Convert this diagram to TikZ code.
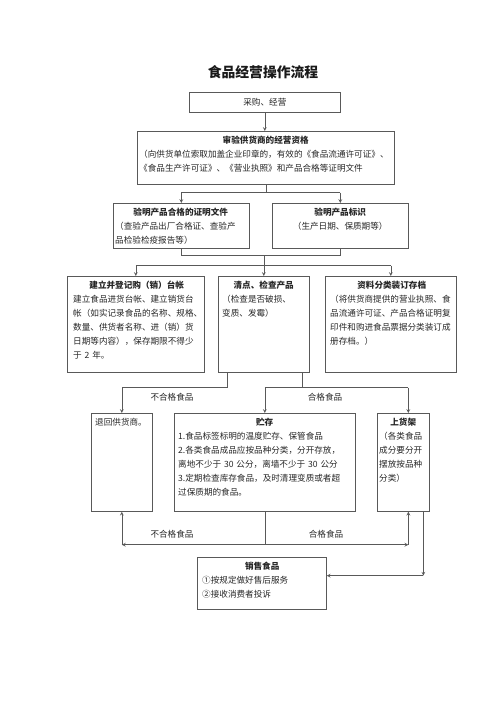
\documentclass[tikz,border=0pt]{standalone}
\usepackage{fontspec}
\setmainfont{Noto Sans CJK SC}
\usetikzlibrary{positioning}
\newcommand{\ct}[1]{\hspace*{\fill}#1\hspace*{\fill}\null}
\newcommand{\bt}[1]{\ct{\textbf{#1}}}

\begin{document}
\begin{tikzpicture}[x=1pt, y=-1pt,
  panel/.style={draw=black!65, line width=0.7pt, anchor=north west, inner sep=0pt},
  txt/.style={inner sep=0pt, align=left, text=black!85, font=\fontsize{8.6}{14}\selectfont},
  lbl/.style={inner sep=0pt, text=black!85, font=\fontsize{8.6}{10}\selectfont},
  ln/.style={draw=black!65, line width=0.7pt},
  arr/.style={ln, -stealth}]

  \useasboundingbox (0,0) rectangle (500,708);

  \node[font=\bfseries\fontsize{13.8}{16}\selectfont, text=black!90] (titel) at (263,72) {食品经营操作流程};

  % boxes
  \node[panel, minimum width=151, minimum height=20] (caigou) at (189,92) {};
  \node[panel, minimum width=257, minimum height=53] (shenyan) at (137,131) {};
  \node[panel, minimum width=136, minimum height=45] (yanzheng) at (113,203) {};
  \node[panel, minimum width=136, minimum height=45] (biaoshi) at (272,203) {};
  \node[panel, minimum width=137, minimum height=96] (jiandang) at (67,276) {};
  \node[panel, minimum width=91, minimum height=96] (jiancha) at (218,276) {};
  \node[panel, minimum width=131, minimum height=96] (guidang) at (325,276) {};
  \node[panel, minimum width=61, minimum height=98] (tuihui) at (91,413) {};
  \node[panel, minimum width=181, minimum height=98] (zhucun) at (174,413) {};
  \node[panel, minimum width=52, minimum height=98] (shangjia) at (377,413) {};
  \node[panel, minimum width=129, minimum height=52] (xiaoshou) at (197,557) {};

  % texts
  \node[txt] (caigoutxt) at (caigou.center) {采购、经营};
  \node[txt, text width=253, below right=5pt and 2pt of shenyan.north west] (shenyantxt)
    {\bt{审验供货商的经营资格}\\
     （向供货单位索取加盖企业印章的，有效的《食品流通许可证》、\\
     《食品生产许可证》、《营业执照》和产品合格等证明文件};
  \node[txt, text width=131, below right=5pt and 2pt of yanzheng.north west] (yanzhengtxt)
    {\bt{验明产品合格的证明文件}\\
     （查验产品出厂合格证、查验产\\
     品检验检疫报告等）};
  \node[txt, text width=128, below right=5pt and 4pt of biaoshi.north west] (biaoshitxt)
    {\bt{验明产品标识}\\
     \ct{（生产日期、保质期等）}};
  \node[txt, text width=127, below right=5pt and 6pt of jiandang.north west] (jiandangtxt)
    {\bt{建立并登记购（销）台帐}\\
     建立食品进货台帐、建立销货台\\
     帐（如实记录食品的名称、规格、\\
     数量、供货者名称、进（销）货\\
     日期等内容），保存期限不得少\\
     于 2 年。};
  \node[txt, text width=83, below right=5pt and 4pt of jiancha.north west] (jianchatxt)
    {\bt{清点、检查产品}\\
     （检查是否破损、\\
     变质、发霉）};
  \node[txt, text width=123, below right=5pt and 5pt of guidang.north west] (guidangtxt)
    {\bt{资料分类装订存档}\\
     （将供货商提供的营业执照、食\\
     品流通许可证、产品合格证明复\\
     印件和购进食品票据分类装订成\\
     册存档。）};
  \node[txt, text width=55, below right=5pt and 4pt of tuihui.north west] (tuihuitxt)
    {退回供货商。};
  \node[txt, text width=173, below right=5pt and 4pt of zhucun.north west] (zhucuntxt)
    {\bt{贮存}\\
     1.食品标签标明的温度贮存、保管食品\\
     2.各类食品成品应按品种分类，分开存放，\\
     离地不少于 30 公分，离墙不少于 30 公分\\
     3.定期检查库存食品，及时清理变质或者超\\
     过保质期的食品。};
  \node[txt, text width=48, below right=5pt and 2pt of shangjia.north west] (shangjiatxt)
    {\bt{上货架}\\
     （各类食品\\
     成分要分开\\
     摆放按品种\\
     分类）};
  \node[txt, text width=120, below right=5pt and 5pt of xiaoshou.north west] (xiaoshoutxt)
    {\bt{销售食品}\\
     ①按规定做好售后服务\\
     ②接收消费者投诉};

  % connectors
  \draw[arr] (caigou.south) -- (caigou.south |- shenyan.north);

  \draw[ln] (shenyan.south) -- ++(0,8) coordinate (fen1);
  \draw[ln] (fen1 -| yanzheng.north) -- (fen1 -| biaoshi.north);
  \foreach \b in {yanzheng, biaoshi}
    \draw[arr] (fen1 -| \b.north) -- (\b.north);

  \draw[ln] (yanzheng.south) -- ++(0,7) coordinate (hui1) -- (hui1 -| biaoshi.south) -- (biaoshi.south);
  \draw[ln] (hui1 -| jiancha.north) -- ++(0,10) coordinate (fen2);
  \draw[ln] (fen2 -| jiandang.north) -- (fen2 -| guidang.north);
  \foreach \b in {jiandang, jiancha, guidang}
    \draw[arr] (fen2 -| \b.north) -- (\b.north);

  \coordinate (bu1) at ([xshift=9]jiancha.south west);
  \coordinate (he1) at ([xshift=-7]jiancha.south east);
  \coordinate (sjin) at ([xshift=5]shangjia.north);
  \coordinate (sjout) at ([xshift=5]shangjia.south);
  \coordinate (sjab) at ([xshift=20]shangjia.south);

  \draw[arr] (bu1) -- ++(0,15) coordinate (bu2) -| (tuihui.north);
  \draw[ln] (he1) -- ++(0,15) coordinate (he2);
  \draw[ln] (he2 -| zhucun.north) -- (he2 -| sjin);
  \draw[arr] (he2 -| zhucun.north) -- (zhucun.north);
  \draw[arr] (he2 -| sjin) -- (sjin);
  \node[lbl] (buhege1) at (172,397) {不合格食品};
  \node[lbl] (hege1) at (325,397) {合格食品};

  \draw[ln] (zhucun.south) -- ++(0,33) coordinate (fen3);
  \draw[arr] (fen3) -- (fen3 -| tuihui.south);
  \draw[arr] (fen3 -| tuihui.south) -- (tuihui.south);
  \draw[arr] (fen3) -- (fen3 -| sjout);
  \draw[arr] (fen3 -| sjout) -- (sjout);
  \node[lbl] (buhege2) at (172,534) {不合格食品};
  \node[lbl] (hege2) at (326,534) {合格食品};

  \draw[arr] (sjab) -- ++(0,64) coordinate (fen4);
  \draw[arr] (fen4) -- (fen4 -| xiaoshou.east);
\end{tikzpicture}
\end{document}
